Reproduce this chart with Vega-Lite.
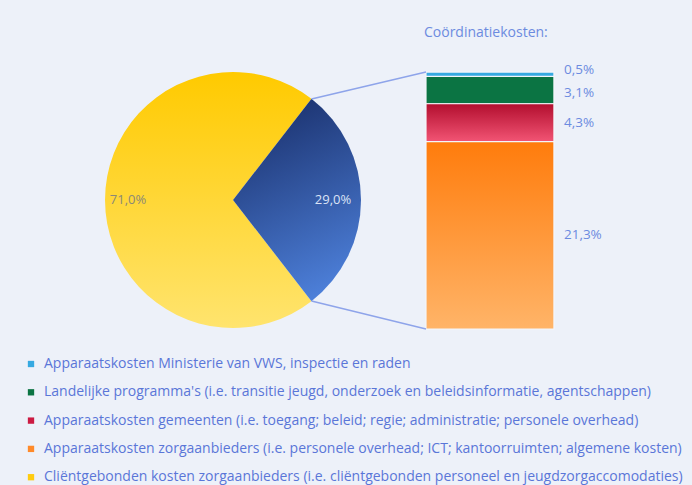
{
  "$schema": "https://vega.github.io/schema/vega-lite/v6.json",
  "width": 692,
  "height": 485,
  "autosize": {"type": "fit", "contains": "padding"},
  "padding": 0,
  "background": "#edf1f9",
  "config": {"view": {"stroke": null}, "font": "Open Sans"},
  "datasets": {
    "pie": [
      {"cat": "Coördinatiekosten", "value": 29.0, "ord": 1},
      {"cat": "Cliëntgebonden kosten zorgaanbieders (i.e. cliëntgebonden personeel en jeugdzorgaccomodaties)", "value": 71.0, "ord": 2}
    ],
    "bar": [
      {"cat": "Apparaatskosten zorgaanbieders (i.e. personele overhead; ICT; kantoorruimten; algemene kosten)", "value": 21.3, "label": "21,3%", "ord": 1},
      {"cat": "Apparaatskosten gemeenten (i.e. toegang; beleid; regie; administratie; personele overhead)", "value": 4.3, "label": "4,3%", "ord": 2},
      {"cat": "Landelijke programma's (i.e. transitie jeugd, onderzoek en beleidsinformatie, agentschappen)", "value": 3.1, "label": "3,1%", "ord": 3},
      {"cat": "Apparaatskosten Ministerie van VWS, inspectie en raden", "value": 0.5, "label": "0,5%", "ord": 4}
    ]
  },
  "layer": [
    {
      "data": {"name": "bar"},
      "transform": [{"stack": "value", "groupby": [], "sort": [{"field": "ord"}], "as": ["y0", "y1"]}],
      "mark": {"type": "rect", "stroke": "#f3f5fa", "strokeWidth": 1.2},
      "encoding": {
        "x": {"datum": 48.41, "type": "quantitative", "scale": {"domain": [0, 78.64], "nice": false, "zero": false}, "axis": null},
        "x2": {"datum": 62.95},
        "y": {"field": "y0", "type": "quantitative", "scale": {"domain": [-17.73, 37.39], "nice": false, "zero": false}, "axis": null},
        "y2": {"field": "y1"},
        "color": {
          "field": "cat", "type": "nominal",
          "scale": {
            "domain": [
              "Apparaatskosten Ministerie van VWS, inspectie en raden",
              "Landelijke programma's (i.e. transitie jeugd, onderzoek en beleidsinformatie, agentschappen)",
              "Apparaatskosten gemeenten (i.e. toegang; beleid; regie; administratie; personele overhead)",
              "Apparaatskosten zorgaanbieders (i.e. personele overhead; ICT; kantoorruimten; algemene kosten)",
              "Cliëntgebonden kosten zorgaanbieders (i.e. cliëntgebonden personeel en jeugdzorgaccomodaties)"
            ],
            "range": ["#36a9e1", "#0b7443", "#cc1a42", "#ff8a2a", "#ffcc10"]
          },
          "legend": {
            "title": null, "orient": "none", "legendX": 24, "legendY": 357,
            "symbolType": "square", "symbolSize": 40, "symbolStrokeWidth": 0,
            "labelFontSize": 14, "labelColor": "#5a76d8", "labelLimit": 700,
            "labelOffset": 6, "rowPadding": 14.3, "padding": 0, "labelFont": "Open Sans"
          }
        }
      }
    },
    {
      "data": {"name": "bar"},
      "transform": [
        {"stack": "value", "groupby": [], "sort": [{"field": "ord"}], "as": ["y0", "y1"]},
        {"filter": "datum.ord == 2"}
      ],
      "mark": {"type": "rect", "stroke": "#f3f5fa", "strokeWidth": 1.2,
        "fill": {"gradient": "linear", "x1": 0, "y1": 0, "x2": 0, "y2": 1,
          "stops": [{"offset": 0, "color": "#b20e2e"}, {"offset": 1, "color": "#f25474"}]}},
      "encoding": {
        "x": {"datum": 48.41, "type": "quantitative", "axis": null},
        "x2": {"datum": 62.95},
        "y": {"field": "y0", "type": "quantitative", "axis": null},
        "y2": {"field": "y1"}
      }
    },
    {
      "data": {"name": "bar"},
      "transform": [
        {"stack": "value", "groupby": [], "sort": [{"field": "ord"}], "as": ["y0", "y1"]},
        {"filter": "datum.ord == 1"}
      ],
      "mark": {"type": "rect", "stroke": "#f3f5fa", "strokeWidth": 1.2,
        "fill": {"gradient": "linear", "x1": 0, "y1": 0, "x2": 0, "y2": 1,
          "stops": [{"offset": 0, "color": "#ff7c0c"}, {"offset": 1, "color": "#ffb468"}]}},
      "encoding": {
        "x": {"datum": 48.41, "type": "quantitative", "axis": null},
        "x2": {"datum": 62.95},
        "y": {"field": "y0", "type": "quantitative", "axis": null},
        "y2": {"field": "y1"}
      }
    },
    {
      "data": {"name": "bar"},
      "transform": [
        {"stack": "value", "groupby": [], "sort": [{"field": "ord"}], "as": ["y0", "y1"]},
        {"calculate": "(datum.y0 + datum.y1) / 2", "as": "mid"},
        {"filter": "datum.ord <= 2"}
      ],
      "mark": {"type": "text", "align": "left", "baseline": "middle", "fontSize": 13.5, "color": "#6c8be0"},
      "encoding": {
        "x": {"datum": 64.09, "type": "quantitative", "axis": null},
        "y": {"field": "mid", "type": "quantitative", "axis": null},
        "text": {"field": "label"}
      }
    },
    {
      "data": {"name": "bar"},
      "transform": [
        {"stack": "value", "groupby": [], "sort": [{"field": "ord"}], "as": ["y0", "y1"]},
        {"calculate": "(datum.y0 + datum.y1) / 2", "as": "mid"},
        {"filter": "datum.ord == 3"}
      ],
      "mark": {"type": "text", "align": "left", "baseline": "middle", "fontSize": 13.5, "color": "#6c8be0", "dy": 3},
      "encoding": {
        "x": {"datum": 64.09, "type": "quantitative", "axis": null},
        "y": {"field": "mid", "type": "quantitative", "axis": null},
        "text": {"field": "label"}
      }
    },
    {
      "data": {"name": "bar"},
      "transform": [
        {"stack": "value", "groupby": [], "sort": [{"field": "ord"}], "as": ["y0", "y1"]},
        {"calculate": "(datum.y0 + datum.y1) / 2", "as": "mid"},
        {"filter": "datum.ord == 4"}
      ],
      "mark": {"type": "text", "align": "left", "baseline": "middle", "fontSize": 13.5, "color": "#6c8be0", "dy": -4},
      "encoding": {
        "x": {"datum": 64.09, "type": "quantitative", "axis": null},
        "y": {"field": "mid", "type": "quantitative", "axis": null},
        "text": {"field": "label"}
      }
    },
    {
      "data": {"name": "pie"},
      "transform": [
        {"stack": "value", "groupby": [], "sort": [{"field": "ord"}], "as": ["t0", "t1"]},
        {"filter": "datum.ord == 2"}
      ],
      "mark": {"type": "arc", "outerRadius": 128,
        "fill": {"gradient": "linear", "x1": 0, "y1": 0, "x2": 0, "y2": 1,
          "stops": [{"offset": 0, "color": "#ffca00"}, {"offset": 1, "color": "#ffe46e"}]}},
      "encoding": {
        "theta": {"field": "t0", "type": "quantitative", "stack": null, "scale": {"domain": [0, 100], "range": [0.6597, 6.9429]}},
        "theta2": {"field": "t1"},
        "x": {"datum": 26.48, "type": "quantitative", "axis": null},
        "y": {"datum": 14.66, "type": "quantitative", "axis": null}
      }
    },
    {
      "data": {"name": "pie"},
      "transform": [
        {"stack": "value", "groupby": [], "sort": [{"field": "ord"}], "as": ["t0", "t1"]},
        {"filter": "datum.ord == 1"}
      ],
      "mark": {"type": "arc", "outerRadius": 128,
        "fill": {"gradient": "linear", "x1": 0.3, "y1": 0, "x2": 0.6, "y2": 1,
          "stops": [{"offset": 0, "color": "#1a306c"}, {"offset": 1, "color": "#4d80da"}]}},
      "encoding": {
        "theta": {"field": "t0", "type": "quantitative", "stack": null, "scale": {"domain": [0, 100], "range": [0.6597, 6.9429]}},
        "theta2": {"field": "t1"},
        "x": {"datum": 26.48, "type": "quantitative", "axis": null},
        "y": {"datum": 14.66, "type": "quantitative", "axis": null}
      }
    },
    {
      "data": {"values": [{}]},
      "mark": {"type": "rule", "color": "#8ea4ea", "strokeWidth": 1.5},
      "encoding": {
        "x": {"datum": 35.40, "type": "quantitative", "axis": null},
        "y": {"datum": 26.14, "type": "quantitative", "axis": null},
        "x2": {"datum": 48.41},
        "y2": {"datum": 29.2}
      }
    },
    {
      "data": {"values": [{}]},
      "mark": {"type": "rule", "color": "#8ea4ea", "strokeWidth": 1.5},
      "encoding": {
        "x": {"datum": 35.40, "type": "quantitative", "axis": null},
        "y": {"datum": 3.18, "type": "quantitative", "axis": null},
        "x2": {"datum": 48.41},
        "y2": {"datum": 0}
      }
    },
    {
      "data": {"values": [{}]},
      "mark": {"type": "text", "text": "Coördinatiekosten:", "align": "left", "baseline": "middle", "fontSize": 14, "color": "#6c8be0"},
      "encoding": {
        "x": {"datum": 48.18, "type": "quantitative", "axis": null},
        "y": {"datum": 33.64, "type": "quantitative", "axis": null}
      }
    },
    {
      "data": {"values": [{}]},
      "mark": {"type": "text", "text": "71,0%", "align": "center", "baseline": "middle", "fontSize": 13, "color": "#8a8878"},
      "encoding": {
        "x": {"datum": 14.55, "type": "quantitative", "axis": null},
        "y": {"datum": 14.66, "type": "quantitative", "axis": null}
      }
    },
    {
      "data": {"values": [{}]},
      "mark": {"type": "text", "text": "29,0%", "align": "center", "baseline": "middle", "fontSize": 13, "color": "#dbe3f6"},
      "encoding": {
        "x": {"datum": 37.84, "type": "quantitative", "axis": null},
        "y": {"datum": 14.66, "type": "quantitative", "axis": null}
      }
    }
  ]
}
